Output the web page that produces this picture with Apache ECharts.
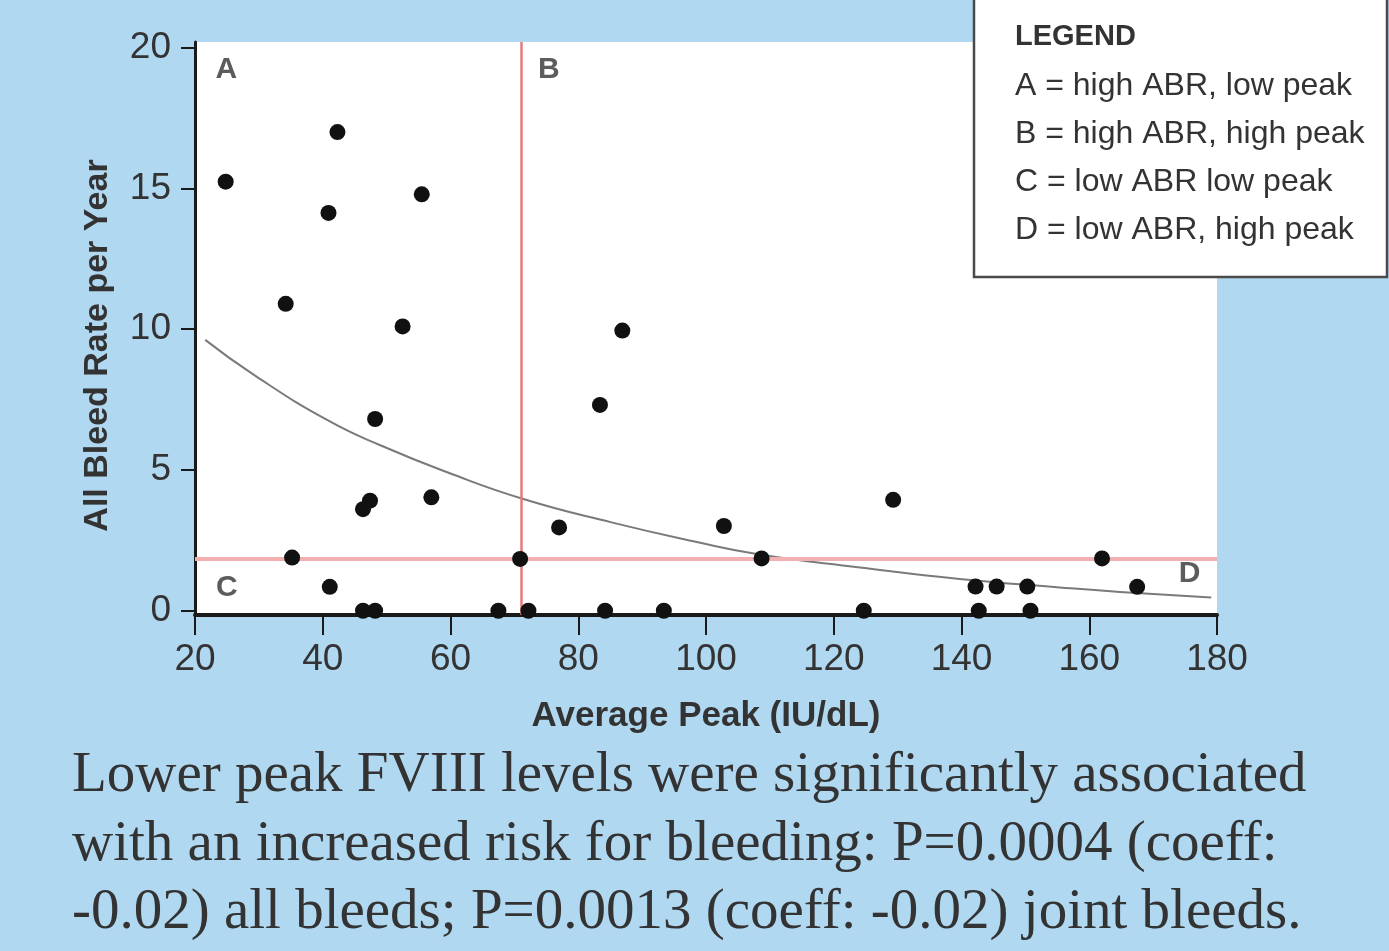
<!DOCTYPE html>
<html lang="en">
<head>
<meta charset="UTF-8">
<title>All Bleed Rate vs Average Peak</title>
<style>
  html, body { margin: 0; padding: 0; width: 100%; height: 100%; background-color: #b1d8f1; }
  #chart { width: 1389px; height: 951px; }
</style>
</head>
<body>
<div id="chart"></div>
<script src="https://cdn.jsdelivr.net/npm/echarts@6/dist/echarts.min.js"></script>
<script>
// average peak (IU/dL) and all-bleed rate per year
const peak = [24.8, 42.3, 40.9, 55.5, 34.2, 52.5, 86.9, 83.4, 48.2, 46.3, 47.4, 57.0,
  77.0, 102.8, 129.3, 35.2, 70.9, 108.7, 162.0, 41.1, 142.2, 145.5, 150.3, 167.5,
  46.3, 48.2, 67.5, 72.2, 84.2, 93.4, 124.7, 142.7, 150.8];
const abr = [15.24, 17.0, 14.13, 14.79, 10.9, 10.1, 9.95, 7.31, 6.81, 3.61, 3.91, 4.03,
  2.96, 3.01, 3.94, 1.89, 1.84, 1.86, 1.86, 0.85, 0.86, 0.86, 0.86, 0.85,
  0, 0, 0, 0, 0, 0, 0, 0, 0];

// fitted curve as traced
const fitX = [21.6, 29.4, 40.9, 49.2, 59.6, 71.4, 85.2, 98.2, 108.4, 124.1, 139.7, 155.4, 164.8, 179.1];
const fitY = [9.62, 8.35, 6.75, 5.86, 4.91, 3.97, 3.14, 2.46, 2.0, 1.54, 1.13, 0.83, 0.67, 0.47];

// quadrant cut-offs
const cutPeak = 71.1;
const cutAbr = 1.86;

const yTicks = [0, 5, 10, 15, 20];
const quadrants = ['A', 'B', 'C', 'D'];
const legendLines = ['A = high ABR, low peak', 'B = high ABR, high peak', 'C = low ABR low peak', 'D = low ABR, high peak'];
const captionLines = [
  'Lower peak FVIII levels were significantly associated',
  'with an increased risk for bleeding: P=0.0004 (coeff:',
  '-0.02) all bleeds; P=0.0013 (coeff: -0.02) joint bleeds.'
];

const sans = '"Liberation Sans", Arial, sans-serif';
const serif = '"Liberation Serif", "DejaVu Serif", serif';
const ink = '#333';

const points = peak.map((p, i) => [p, abr[i]]);
const fit = fitX.map((x, i) => [x, fitY[i]]);
const quadPos = [[24.9, 19.2], [75.4, 19.2], [25.0, 0.82], [175.7, 1.31]];

const chart = echarts.init(document.getElementById('chart'));

const graphic = [
  {
    type: 'rect', z: 100,
    shape: { x: 974, y: -5, width: 413, height: 282 },
    style: { fill: '#fff', stroke: '#4a4a4a', lineWidth: 2.5 }
  },
  {
    type: 'text', z: 101, x: 1015, y: 37,
    style: { text: 'LEGEND', fontFamily: sans, fontWeight: 'bold', fontSize: 29, fill: ink, verticalAlign: 'middle' }
  }
];
legendLines.forEach((t, i) => {
  graphic.push({
    type: 'text', z: 101, x: 1015, y: 86 + i * 48,
    style: { text: t, fontFamily: sans, fontSize: 32, fill: ink, verticalAlign: 'middle' }
  });
});
const capY = [776, 845, 913];
captionLines.forEach((t, i) => {
  graphic.push({
    type: 'text', z: 101, x: 72, y: capY[i],
    style: { text: t, fontFamily: serif, fontSize: 57, fill: ink, verticalAlign: 'middle' }
  });
});

chart.setOption({
  backgroundColor: '#b1d8f1',
  animation: false,
  grid: { left: 195, right: 172, top: 42, bottom: 336, show: true, backgroundColor: '#fff', borderWidth: 0 },
  xAxis: {
    type: 'value', min: 20, max: 180, interval: 20,
    splitLine: { show: false },
    axisLine: { show: true, onZero: false, lineStyle: { color: '#1a1a1a', width: 4 } },
    axisTick: { show: true, length: 20, lineStyle: { color: '#1a1a1a', width: 2 } },
    axisLabel: { fontFamily: sans, fontSize: 37, color: ink, margin: 26 },
    name: 'Average Peak (IU/dL)', nameLocation: 'middle', nameGap: 84,
    nameTextStyle: { fontFamily: sans, fontWeight: 'bold', fontSize: 35, color: ink }
  },
  yAxis: {
    type: 'value', min: -0.15, max: 20.2,
    splitLine: { show: false },
    axisLine: { show: true, onZero: false, lineStyle: { color: '#1a1a1a', width: 3 } },
    axisTick: { show: true, length: 14, customValues: yTicks, lineStyle: { color: '#1a1a1a', width: 2 } },
    axisLabel: { customValues: yTicks, fontFamily: sans, fontSize: 37, color: ink, margin: 24 },
    name: 'All Bleed Rate per Year', nameLocation: 'middle', nameGap: 80,
    nameTextStyle: { fontFamily: sans, fontWeight: 'bold', fontSize: 34, color: ink, padding: [0, 34, 0, 0] }
  },
  series: [
    {
      type: 'line', data: fit, smooth: true, showSymbol: false, z: 3,
      lineStyle: { color: '#7a7a7a', width: 2 },
      markLine: {
        silent: true, symbol: 'none', label: { show: false },
        data: [
          { xAxis: cutPeak, lineStyle: { color: '#e47b7b', width: 2.5, type: 'solid' } },
          { yAxis: cutAbr, lineStyle: { color: '#f2b0b0', width: 4, type: 'solid' } }
        ]
      }
    },
    {
      type: 'scatter', data: points, symbolSize: 16, z: 5,
      itemStyle: { color: '#111', opacity: 1 }
    },
    {
      type: 'scatter', symbolSize: 0, z: 6, silent: true,
      data: quadrants.map((q, i) => ({ name: q, value: quadPos[i] })),
      label: {
        show: true, position: 'inside', formatter: '{b}',
        fontFamily: sans, fontWeight: 'bold', fontSize: 30, color: ink
      }
    }
  ],
  graphic: graphic
});
</script>
</body>
</html>
